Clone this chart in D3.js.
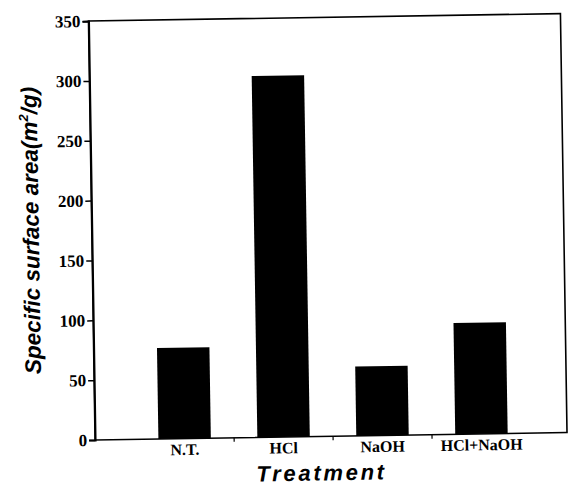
<!doctype html>
<html>
<head>
<script src="https://d3js.org/d3.v7.min.js"></script>
<style>
  body { margin: 0; background: #fff; }
  svg { display: block; }
</style>
</head>
<body>
<script>
var categories = ["N.T.", "HCl", "NaOH", "HCl+NaOH"];
var values = [76, 302, 58, 93];
var yTicks = [0, 50, 100, 150, 200, 250, 300, 350];

var W = 568, H = 486;
var margin = {top: 18, right: 4, bottom: 49, left: 92};
var width = W - margin.left - margin.right,
    height = H - margin.top - margin.bottom;

var svg = d3.select("body").append("svg").attr("width", W).attr("height", H);

// scanned figure is a little tilted
var root = svg.append("g").attr("transform", "rotate(-0.9," + (W / 2) + "," + (H / 2) + ")");
var g = root.append("g").attr("transform", "translate(" + margin.left + "," + margin.top + ")");

var x = d3.scaleBand().domain(categories).range([0, width]).paddingInner(0.47).paddingOuter(0.62);
var y = d3.scaleLinear().domain([0, 350]).range([height, 0]);

// frame
g.append("rect").attr("width", width).attr("height", height)
  .attr("fill", "none").attr("stroke", "#000").attr("stroke-width", 1.6);

g.selectAll(".bar").data(values).enter().append("rect")
  .attr("class", "bar")
  .attr("x", function(d, i) { return x(categories[i]) + 2; })
  .attr("y", function(d) { return y(d); })
  .attr("width", x.bandwidth())
  .attr("height", function(d) { return height - y(d); })
  .attr("fill", "#000");

var yAxis = g.append("g")
  .call(d3.axisLeft(y).tickValues(yTicks).tickSize(6).tickPadding(2));
yAxis.select(".domain").attr("stroke-width", 2);
yAxis.selectAll(".tick line").attr("stroke-width", 1.5);
yAxis.selectAll(".tick text")
  .style("font-family", "'Liberation Serif', 'Times New Roman', serif")
  .style("font-weight", "700").style("font-size", "17px").style("fill", "#000");

var xAxis = g.append("g").attr("transform", "translate(0," + height + ")")
  .call(d3.axisBottom(x).tickSize(0).tickPadding(5));
xAxis.select(".domain").remove();
xAxis.selectAll(".tick").attr("transform", function(d) { return "translate(" + (x(d) + x.bandwidth() / 2 + 2) + ",0)"; });
xAxis.selectAll(".tick text")
  .style("font-family", "'Liberation Serif', 'Times New Roman', serif")
  .style("font-weight", "700").style("font-size", "16px").style("fill", "#000");

// small ticks between categories
var gap = x.step() - x.bandwidth();
g.selectAll(".sep").data(categories.slice(1)).enter().append("line")
  .attr("x1", function(d) { return x(d) - gap / 2 + 2; })
  .attr("x2", function(d) { return x(d) - gap / 2 + 2; })
  .attr("y1", height).attr("y2", height + 4)
  .attr("stroke", "#000").attr("stroke-width", 1.2);

g.append("text")
  .attr("x", 226).attr("y", height + 44)
  .attr("text-anchor", "middle")
  .style("font-family", "'Liberation Sans', Arial, sans-serif")
  .style("font-weight", "700").style("font-style", "italic")
  .style("font-size", "22px").style("letter-spacing", "2.7px")
  .text("Treatment");

var yl = g.append("text")
  .attr("transform", "translate(-53," + (height / 2 - 1) + ") rotate(-90)")
  .attr("text-anchor", "middle")
  .style("font-family", "'Liberation Sans', Arial, sans-serif")
  .style("font-weight", "700").style("font-style", "italic")
  .style("font-size", "22.5px");
yl.append("tspan").text("Specific surface area(m");
yl.append("tspan").style("font-size", "13px").attr("dy", -9).text("2");
yl.append("tspan").attr("dy", 9).text("/g)");
</script>
</body>
</html>
